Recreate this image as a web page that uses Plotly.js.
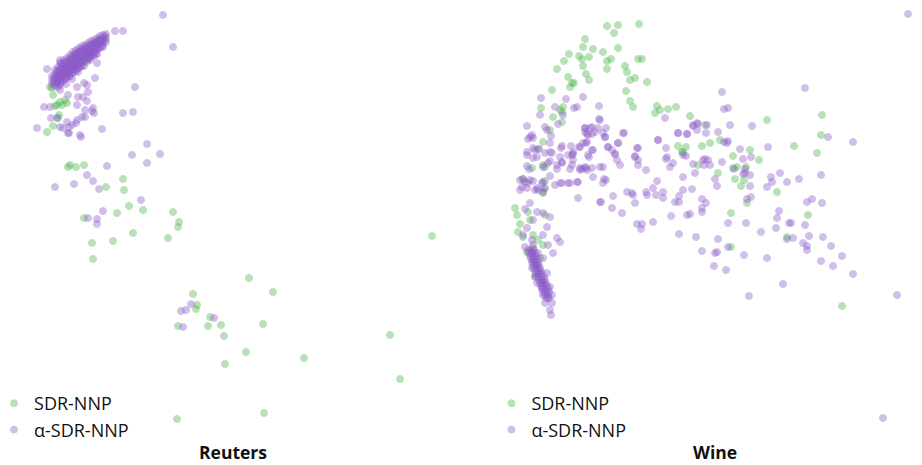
<!DOCTYPE html>
<html>
<head>
<meta charset="utf-8">
<script src="https://cdn.plot.ly/plotly-3.0.1.min.js"></script>
<style>
  html, body { margin: 0; padding: 0; background: #fff; overflow: hidden; }
  #chart { width: 922px; height: 465px; }
</style>
</head>
<body>
<div id="chart"></div>
<script>
// 2-D embeddings, [x, y] per sample (y grows downward in embedding space).
const seriesNames = ["SDR-NNP", "\u03b1-SDR-NNP"];
const panelTitles = ["Reuters", "Wine"];

const reutersSDR = [
  [47,132],[53,126],[59,115],[55,106],[62,105],[65,100],[52,88],[53,95],[60,102],[87,62],
  [97,43],[100,40],[50,87],[57,105],[67,103],[58,118],[70,165],[68,167],[76,167],[84,165],
  [123,179],[106,187],[124,190],[129,206],[143,210],[117,213],[84,218],[173,212],[179,222],[178,227],
  [133,233],[168,238],[113,241],[92,243],[93,259],[249,278],[273,292],[193,294],[197,305],[196,309],
  [210,317],[178,326],[208,326],[221,325],[263,324],[224,336],[246,352],[225,364],[304,358],[390,335],
  [400,379],[177,419],[264,413],[432,236]
];

const reutersAlpha = [
  [163,15],[173,47],[115,31],[123,31],[135,87],[123,113],[133,112],[147,144],[102,129],[37,128],
  [47,69],[81,137],[69,133],[63,128],[76,123],[82,117],[94,113],[93,108],[85,110],[78,97],
  [88,92],[77,87],[95,78],[84,83],[51,118],[57,118],[44,107],[50,107],[60,63],[97,63],
  [89,54],[69,127],[60,60],[87,85],[83,97],[68,95],[77,105],[87,101],[92,111],[85,117],
  [77,120],[67,122],[72,125],[60,127],[80,135],[68,133],
  // dense ridge of the main cluster
  [52,76],[52,80],[52,84],
  [55,70],[55,74],[55,78],[55,82],[55,86],
  [58,67],[58,71],[58,75],[58,79],[58,83],[58,87],
  [61,63],[61,67],[61,71],[61,75],[61,79],[61,83],
  [64,60],[64,64],[64,68],[64,72],[64,76],[64,80],
  [67,58],[67,62],[67,66],[67,70],[67,74],[67,78],
  [70,55],[70,59],[70,63],[70,67],[70,71],[70,76],
  [73,52],[73,56],[73,60],[73,64],[73,68],[73,73],
  [76,50],[76,54],[76,58],[76,62],[76,66],[76,71],
  [79,48],[79,52],[79,56],[79,60],[79,64],[79,68],
  [82,46],[82,50],[82,54],[82,58],[82,62],[82,66],
  [85,45],[85,49],[85,53],[85,57],[85,61],
  [88,43],[88,47],[88,51],[88,55],[88,59],
  [91,41],[91,45],[91,49],[91,53],[91,57],
  [94,40],[94,44],[94,48],[94,52],[94,56],
  [97,38],[97,42],[97,46],[97,50],[97,54],
  [100,36],[100,40],[100,44],[100,48],
  [103,35],[103,39],[103,43],[103,47],
  [106,34],[106,38],[106,42],
  [54,78],[54,82],
  [57,72],[57,76],[57,80],[57,84],
  [60,69],[60,73],[60,77],[60,81],[60,85],
  [63,65],[63,69],[63,73],[63,77],[63,81],
  [66,62],[66,66],[66,70],[66,74],[66,78],
  [69,60],[69,64],[69,68],[69,72],[69,76],
  [72,57],[72,61],[72,65],[72,69],[72,73],
  [75,54],[75,58],[75,62],[75,66],[75,70],
  [78,52],[78,56],[78,60],[78,64],[78,68],
  [81,50],[81,54],[81,58],[81,62],[81,66],
  [84,48],[84,52],[84,56],[84,60],
  [87,47],[87,51],[87,55],[87,59],
  [90,45],[90,49],[90,53],[90,57],
  [93,43],[93,47],[93,51],[93,55],
  [96,42],[96,46],[96,50],[96,54],
  [99,40],[99,44],[99,48],
  [102,38],[102,42],[102,46],
  [105,36],[105,40],
  [60,90],[66,84],[72,79],[78,72],[84,66],[90,60],
  [132,155],[160,154],[147,163],[107,166],[87,175],[93,181],[74,184],[55,187],[99,189],[141,200],
  [103,211],[88,218],[97,219],[97,224],
  [181,311],[186,310],[191,304],[214,318],[183,327]
];

const wineSDR = [
  [607,26],[618,25],[639,24],[614,33],[585,39],[583,47],[593,49],[569,54],[579,56],[589,57],
  [582,59],[564,61],[557,69],[583,66],[603,52],[618,48],[607,61],[611,59],[607,69],[625,66],
  [627,72],[638,59],[642,59],[586,74],[568,77],[572,83],[574,83],[570,87],[589,80],[630,80],
  [635,78],[647,82],[552,90],[626,91],[630,101],[633,107],[541,108],[563,107],[560,110],[562,112],
  [553,117],[550,130],[657,106],[660,110],[655,113],[668,109],[676,107],[690,116],[543,142],[538,149],
  [678,146],[686,147],[682,152],[702,146],
  [562,122],[543,165],[545,167],[532,168],[523,179],[545,181],[543,193],
  [515,208],[517,215],[520,224],[518,232],[523,237],[528,212],[533,235],[543,245],[538,240],
  [533,248],[527,252],[540,258],[535,276],[545,215],[530,220],[544,189],
  [767,120],[822,115],[705,125],[683,152],[710,143],[720,140],[733,156],[750,150],[759,160],
  [794,146],[821,135],[817,153],[698,165],[733,168],[737,167],[746,167],[718,173],[735,179],[744,180],
  [741,186],[747,203],[777,192],[731,213],[808,215],[787,237],[731,247],[842,306]
];

const wineAlpha = [
  [908,14],[883,418],[805,88],
  [541,98],[566,99],[583,97],[599,106],[555,107],[574,108],[577,107],[540,115],[563,115],[599,119],
  [527,126],[545,127],[547,130],[558,124],[585,128],[590,128],[598,128],[606,128],[587,134],[592,134],
  [605,137],[624,133],[551,136],[530,137],[533,138],[532,135],[562,146],[550,143],[571,146],[579,147],
  [586,143],[593,150],[608,147],[618,143],[637,148],[658,140],[665,118],[678,133],[687,134],[693,126],
  [697,123],[527,152],[533,148],[545,153],[573,154],[588,155],[615,154],[635,157],[667,157],
  [528,139],[585,132],[539,149],[535,150],[550,152],[561,148],[527,155],[533,158],[550,161],[562,162],
  [572,155],[573,160],[580,168],[527,166],[529,169],[543,167],[557,169],[570,169],[580,170],[585,167],
  [520,180],[523,179],[530,180],[533,181],[522,187],[527,188],[537,188],[543,182],[555,185],[562,183],
  [568,183],[577,182],[545,188],[543,192],[538,190],[550,176],
  [537,157],[552,153],[560,157],[568,155],[573,152],[548,163],[557,165],[562,163],[572,165],[586,168],
  [592,168],[600,167],[520,190],[528,183],[525,182],[542,183],[560,183],[570,183],[578,182],[535,190],
  [578,198],[600,202],[530,203],[525,209],[537,212],[543,213],[533,220],[550,217],[527,228],[547,227],
  [523,235],[532,240],[543,235],[533,245],[557,238],[560,242],[525,247],[548,245],[532,252],[538,253],
  [553,253],[533,260],[543,258],[537,265],[532,268],[540,273],[547,273],[535,277],[537,283],[543,282],
  [542,288],[550,287],[543,295],[548,298],[552,295],[545,303],[552,303],[550,310],[551,315],
  // dense lower arm
  [528,250],[531,250],[534,250],[529,253],[532,253],[535,253],[530,256],[533,256],[536,256],
  [531,259],[534,259],[537,259],[532,262],[535,262],[538,262],[533,265],[536,265],[539,265],
  [534,268],[537,268],[540,268],[535,271],[538,271],[541,271],[536,274],[539,274],[542,274],
  [538,277],[541,277],[544,277],[539,280],[542,280],[545,280],[540,283],[543,283],[546,283],
  [541,286],[544,286],[547,286],[542,289],[545,289],[548,289],[543,292],[546,292],[549,292],
  [545,295],[548,295],[546,298],[549,298],
  [722,92],[724,109],[728,108],[600,120],[585,128],[592,127],[595,132],[588,135],[603,133],[605,137],
  [623,133],[693,125],[698,124],[697,130],[707,125],[706,133],[678,133],[687,134],[718,132],[730,125],
  [752,126],[828,137],[853,142],[583,143],[587,142],[580,147],[592,150],[608,147],[612,150],[618,143],
  [615,154],[617,160],[620,165],[589,157],[582,169],[587,170],[593,177],[603,167],[604,179],[603,183],
  [606,180],[658,140],[638,148],[635,156],[638,160],[638,165],[646,170],[666,148],[666,159],[673,163],
  [670,167],[683,155],[686,156],[693,164],[695,173],[703,160],[705,159],[708,160],[704,165],[710,165],
  [722,162],[724,142],[727,143],[728,141],[740,149],[743,159],[751,157],[768,147],[734,169],[745,173],
  [743,174],[750,175],[745,169],[715,179],[717,186],[683,177],[692,189],[657,181],[653,188],[663,192],
  [683,190],[679,196],[663,198],[656,195],[647,195],[646,192],[633,195],[632,193],[627,192],[635,203],
  [613,196],[601,202],[612,208],[622,213],[675,202],[679,202],[702,199],[706,203],[702,208],[702,212],
  [671,216],[687,215],[690,214],[653,222],[637,224],[642,224],[641,229],[679,234],[696,237],[718,239],
  [728,223],[746,223],[751,197],[747,199],[750,186],[767,187],[771,177],[772,182],[780,173],[787,182],
  [799,179],[821,175],[761,232],[776,228],[779,211],[777,218],[789,223],[791,223],[787,239],[793,238],
  [805,225],[809,236],[803,243],[807,246],[807,250],[823,237],[831,246],[821,261],[833,266],[842,256],
  [853,274],[807,202],[812,199],[822,203],[702,251],[715,253],[717,252],[714,266],[726,270],[744,255],
  [767,258],[728,247],[783,284],[749,296],[897,295]
];

const GREEN = "rgb(70,178,70)";
const PURPLE = "rgb(140,90,200)";

function scatter(points, name, color, xa, ya, legend) {
  return {
    type: "scatter",
    mode: "markers",
    x: points.map(p => p[0]),
    y: points.map(p => p[1]),
    name: name,
    xaxis: xa,
    yaxis: ya,
    legend: legend,
    showlegend: true,
    marker: {
      size: 7,
      color: color,
      opacity: 0.38,
      line: { width: 1, color: color }
    },
    hoverinfo: "x+y+name"
  };
}

const data = [
  scatter(reutersSDR, seriesNames[0], GREEN, "x", "y", "legend"),
  scatter(reutersAlpha, seriesNames[1], PURPLE, "x", "y", "legend"),
  scatter(wineSDR, seriesNames[0], GREEN, "x2", "y2", "legend2"),
  scatter(wineAlpha, seriesNames[1], PURPLE, "x2", "y2", "legend2")
];

const hidden = { visible: false, fixedrange: true };
const legendFont = { family: "Open Sans, sans-serif", size: 18, color: "#111" };

function legendAt(x, y) {
  return {
    x: x, y: y, xanchor: "left", yanchor: "top",
    font: legendFont, bgcolor: "rgba(0,0,0,0)",
    itemsizing: "trace", borderwidth: 0, traceorder: "normal"
  };
}

const titleFont = { family: "Open Sans, sans-serif", size: 17.5, color: "#111" };

const layout = {
  width: 922,
  height: 465,
  margin: { l: 0, r: 0, t: 0, b: 0, autoexpand: false },
  paper_bgcolor: "#fff",
  plot_bgcolor: "rgba(0,0,0,0)",
  xaxis: Object.assign({ domain: [0, 0.5], range: [0, 461] }, hidden),
  yaxis: Object.assign({ domain: [0, 1], range: [465, 0] }, hidden),
  xaxis2: Object.assign({ domain: [0.5, 1], range: [461, 922] }, hidden),
  yaxis2: Object.assign({ domain: [0, 1], range: [465, 0] }, hidden),
  legend: legendAt(-0.0065, 0.172),
  legend2: legendAt(0.5330, 0.172),
  annotations: [
    { text: "<b>" + panelTitles[0] + "</b>", xref: "paper", yref: "paper",
      x: 0.2527, y: 0.028, xanchor: "center", yanchor: "middle", showarrow: false,
      font: titleFont },
    { text: "<b>" + panelTitles[1] + "</b>", xref: "paper", yref: "paper",
      x: 0.7755, y: 0.028, xanchor: "center", yanchor: "middle", showarrow: false,
      font: titleFont }
  ],
  hovermode: "closest"
};

Plotly.newPlot("chart", data, layout, { displayModeBar: false });
</script>
</body>
</html>
